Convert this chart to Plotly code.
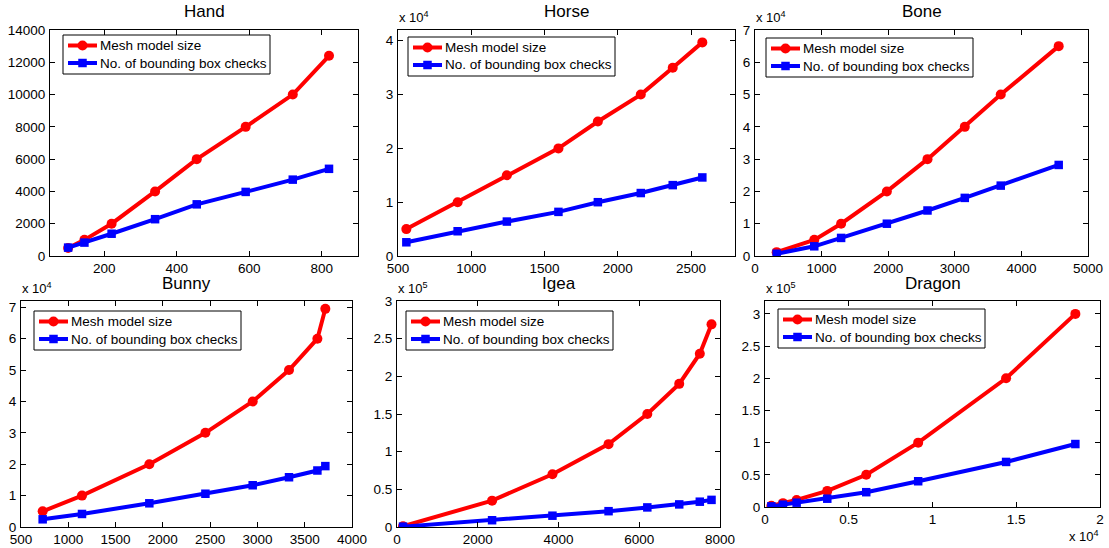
import plotly.graph_objects as go

W, H = 1109, 548

# ---------------- data ----------------
names = ["Hand", "Horse", "Bone", "Bunny", "Igea", "Dragon"]
series_names = ["Mesh model size", "No. of bounding box checks"]

hand_x = [100, 145, 220, 340, 455, 590, 720, 820]
hand_mesh = [500, 1000, 2000, 4000, 6000, 8000, 10000, 12400]
hand_bbox = [520, 830, 1380, 2280, 3200, 3970, 4730, 5400]

horse_x = [557, 907, 1243, 1595, 1864, 2157, 2375, 2577]
horse_mesh = [5000, 10000, 15000, 20000, 25000, 30000, 35000, 39700]
horse_bbox = [2550, 4600, 6400, 8200, 10000, 11700, 13170, 14600]

bone_x = [325, 890, 1293, 1980, 2590, 3150, 3690, 4560]
bone_mesh = [1200, 5000, 10000, 20000, 30000, 40000, 50000, 65000]
bone_bbox = [700, 3000, 5600, 10000, 14100, 18000, 21800, 28200]

bunny_x = [729, 1145, 1857, 2450, 2950, 3334, 3634, 3718]
bunny_mesh = [5000, 10000, 20000, 30000, 40000, 50000, 60000, 69500]
bunny_bbox = [2450, 4150, 7550, 10600, 13300, 15850, 18000, 19400]

igea_x = [149, 2355, 3850, 5240, 6200, 6990, 7500, 7790]
igea_mesh = [1000, 35000, 70000, 110000, 150000, 190000, 230000, 269000]
igea_bbox = [500, 9000, 15000, 21000, 26000, 30000, 33600, 36000]

dragon_x = [380, 1073, 1889, 3718, 6044, 9145, 14394, 18529]
dragon_mesh = [2000, 6000, 11000, 25000, 50000, 100000, 200000, 300000]
dragon_bbox = [1000, 3600, 6700, 12900, 23000, 40000, 70000, 97800]

# tick values / labels
hand_xt = [200, 400, 600, 800]
hand_yt = [0, 2000, 4000, 6000, 8000, 10000, 12000, 14000]
hand_yl = ["0", "2000", "4000", "6000", "8000", "10000", "12000", "14000"]
horse_xt = [500, 1000, 1500, 2000, 2500]
horse_yt = [0, 10000, 20000, 30000, 40000]
horse_yl = ["0", "1", "2", "3", "4"]
bone_xt = [0, 1000, 2000, 3000, 4000, 5000]
bone_yt = [0, 10000, 20000, 30000, 40000, 50000, 60000, 70000]
bone_yl = ["0", "1", "2", "3", "4", "5", "6", "7"]
bunny_xt = [500, 1000, 1500, 2000, 2500, 3000, 3500, 4000]
bunny_yt = [0, 10000, 20000, 30000, 40000, 50000, 60000, 70000]
bunny_yl = ["0", "1", "2", "3", "4", "5", "6", "7"]
igea_xt = [0, 2000, 4000, 6000, 8000]
igea_yt = [0, 50000, 100000, 150000, 200000, 250000, 300000]
igea_yl = ["0", "0.5", "1", "1.5", "2", "2.5", "3"]
dragon_xt = [0, 5000, 10000, 15000, 20000]
dragon_xl = ["0", "0.5", "1", "1.5", "2"]
dragon_yt = [0, 50000, 100000, 150000, 200000, 250000, 300000]
dragon_yl = ["0", "0.5", "1", "1.5", "2", "2.5", "3"]

# ---------------- layout geometry (pixels) ----------------
FONT = "Liberation Sans, Arial, Helvetica, sans-serif"
FS = 13.5
RED = "#ff0000"
BLUE = "#0000ff"

panels = [
    ("Hand", hand_x, hand_mesh, hand_bbox, (50, 358, 30, 256), [50, 900], [0, 14000],
     hand_xt, None, hand_yt, hand_yl, (63, 35), None),
    ("Horse", horse_x, horse_mesh, horse_bbox, (398, 735, 30, 256), [500, 2800], [0, 42000],
     horse_xt, None, horse_yt, horse_yl, (408, 37), "4"),
    ("Bone", bone_x, bone_mesh, bone_bbox, (755, 1088, 30, 256), [0, 5000], [0, 70000],
     bone_xt, None, bone_yt, bone_yl, (766, 38), "4"),
    ("Bunny", bunny_x, bunny_mesh, bunny_bbox, (21, 352, 301, 527), [500, 4000], [0, 72000],
     bunny_xt, None, bunny_yt, bunny_yl, (34, 311), "4"),
    ("Igea", igea_x, igea_mesh, igea_bbox, (397, 720, 301, 527), [0, 8000], [0, 300000],
     igea_xt, None, igea_yt, igea_yl, (406, 311), "5"),
    ("Dragon", dragon_x, dragon_mesh, dragon_bbox, (765, 1100, 301, 507), [0, 20000], [0, 320000],
     dragon_xt, dragon_xl, dragon_yt, dragon_yl, (778, 309), "5"),
]

fig = go.Figure()
annotations = []
shapes = []
layout = {}


def px(xp):
    return xp / W


def py(yp):
    return 1 - yp / H


for i, (name, xs, mesh, bbox, box, xr, yr, xt, xl, yt, yl, lpos, expo) in enumerate(panels):
    n = i + 1
    xa = "x" if n == 1 else f"x{n}"
    ya = "y" if n == 1 else f"y{n}"
    l, r, t, b = box
    axis_common = dict(
        showline=True, mirror="ticks", linecolor="black", linewidth=1,
        ticks="inside", ticklen=5, tickcolor="black", tickwidth=1,
        showgrid=False, zeroline=False, automargin=False,
        tickfont=dict(family=FONT, size=FS, color="black"),
    )
    layout["xaxis" if n == 1 else f"xaxis{n}"] = dict(
        domain=[px(l), px(r)], anchor=ya, range=xr,
        tickvals=xt, ticktext=(xl if xl else [str(v) for v in xt]),
        ticklabelstandoff=0, **axis_common)
    layout["yaxis" if n == 1 else f"yaxis{n}"] = dict(
        domain=[py(b), py(t)], anchor=xa, range=yr,
        tickvals=yt, ticktext=yl, ticklabelstandoff=1, **axis_common)

    fig.add_trace(go.Scatter(
        x=xs, y=mesh, name=series_names[0], mode="lines+markers",
        line=dict(color=RED, width=4),
        marker=dict(symbol="circle", size=10, color=RED),
        xaxis=xa, yaxis=ya, showlegend=False))
    fig.add_trace(go.Scatter(
        x=xs, y=bbox, name=series_names[1], mode="lines+markers",
        line=dict(color=BLUE, width=4),
        marker=dict(symbol="square", size=8.5, color=BLUE),
        xaxis=xa, yaxis=ya, showlegend=False))

    # custom legend box (MATLAB style)
    lx, ly = lpos
    lw, lh = 207, 39
    shapes.append(dict(type="rect", xref="paper", yref="paper",
                       x0=px(lx), x1=px(lx + lw), y0=py(ly + lh), y1=py(ly),
                       line=dict(color="black", width=1), fillcolor="white", layer="above"))
    for k, (sname, col, sym) in enumerate([(series_names[0], RED, "circle"),
                                            (series_names[1], BLUE, "rect")]):
        cy = ly + 10.5 + k * 17.5
        shapes.append(dict(type="line", xref="paper", yref="paper",
                           x0=px(lx + 5), x1=px(lx + 34), y0=py(cy), y1=py(cy),
                           line=dict(color=col, width=4), layer="above"))
        mx = lx + 19.5
        s = 5 if sym == "circle" else 4.25
        shapes.append(dict(type=sym, xref="paper", yref="paper",
                           x0=px(mx - s), x1=px(mx + s), y0=py(cy + s), y1=py(cy - s),
                           line=dict(color=col, width=0), fillcolor=col, layer="above"))
        annotations.append(dict(
            text=sname, x=px(lx + 35), y=py(cy), xref="paper", yref="paper",
            xanchor="left", yanchor="middle", showarrow=False,
            font=dict(family=FONT, size=FS, color="black")))

    # title
    annotations.append(dict(
        text=name, x=px((l + r) / 2), y=py(t - 18), xref="paper", yref="paper",
        xanchor="center", yanchor="middle", showarrow=False,
        font=dict(family=FONT, size=17, color="black")))
    if expo:
        annotations.append(dict(
            text=f"x 10<sup>{expo}</sup>", x=px(l - 1), y=py(t - 3),
            xref="paper", yref="paper", xanchor="left", yanchor="bottom",
            showarrow=False, font=dict(family=FONT, size=13, color="black")))

# Dragon x exponent
annotations.append(dict(
    text="x 10<sup>4</sup>", x=px(1101), y=py(546),
    xref="paper", yref="paper", xanchor="right", yanchor="bottom",
    showarrow=False, font=dict(family=FONT, size=13, color="black")))

fig.update_layout(
    width=W, height=H, margin=dict(l=0, r=0, t=0, b=0),
    paper_bgcolor="white", plot_bgcolor="white", showlegend=False,
    annotations=annotations, shapes=shapes, **layout)

fig.write_html("out.html")
